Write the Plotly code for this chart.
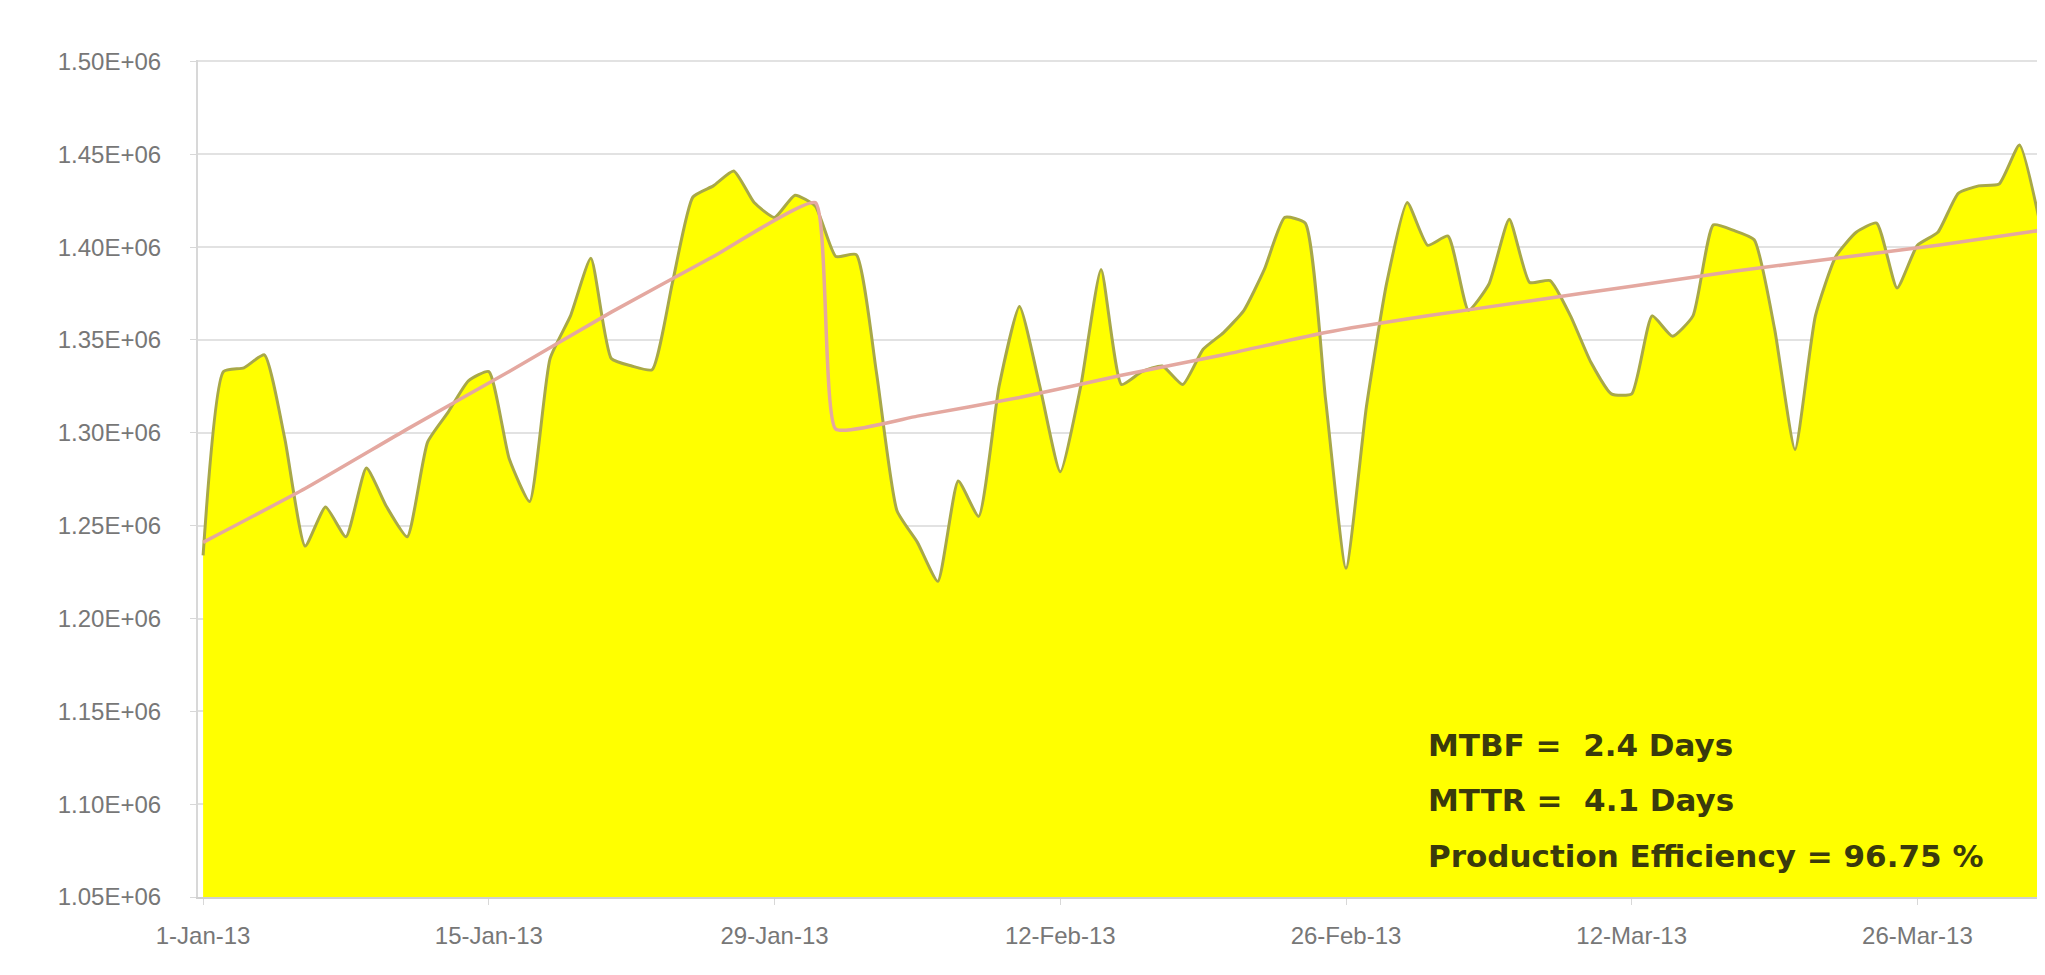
import plotly.graph_objects as go
import pandas as pd

start_date = "2013-01-01"
# daily production (units)
production = [
    1.234e6, 1.333e6, 1.335e6, 1.342e6, 1.297e6, 1.239e6, 1.260e6, 1.244e6, 1.281e6, 1.260e6,
    1.244e6, 1.295e6, 1.311e6, 1.328e6, 1.333e6, 1.286e6, 1.263e6, 1.340e6, 1.363e6, 1.394e6,
    1.340e6, 1.336e6, 1.334e6, 1.381e6, 1.427e6, 1.433e6, 1.441e6, 1.424e6, 1.416e6, 1.428e6,
    1.422e6, 1.395e6, 1.396e6, 1.332e6, 1.258e6, 1.241e6, 1.220e6, 1.274e6, 1.255e6, 1.325e6,
    1.368e6, 1.325e6, 1.279e6, 1.325e6, 1.388e6, 1.326e6, 1.333e6, 1.336e6, 1.326e6, 1.345e6,
    1.354e6, 1.366e6, 1.388e6, 1.416e6, 1.413e6, 1.318e6, 1.227e6, 1.314e6, 1.381e6, 1.424e6,
    1.401e6, 1.406e6, 1.366e6, 1.380e6, 1.415e6, 1.381e6, 1.382e6, 1.363e6, 1.338e6, 1.321e6,
    1.321e6, 1.363e6, 1.352e6, 1.363e6, 1.412e6, 1.409e6, 1.404e6, 1.356e6, 1.291e6, 1.363e6,
    1.395e6, 1.408e6, 1.413e6, 1.378e6, 1.401e6, 1.408e6, 1.429e6, 1.433e6, 1.434e6, 1.455e6,
    1.413e6,
]
dates = pd.date_range(start_date, periods=len(production), freq="D")

# trend line (two segments)
trend_dates = ["2013-01-01", "2013-01-06", "2013-01-11", "2013-01-16", "2013-01-21", "2013-01-26",
               "2013-01-31", "2013-02-01", "2013-02-05", "2013-02-10", "2013-02-15", "2013-02-20",
               "2013-02-25", "2013-03-02", "2013-03-07", "2013-03-12", "2013-03-17", "2013-03-22",
               "2013-03-27", "2013-04-01"]
trend_values = [1.241e6, 1.270e6, 1.302e6, 1.333e6, 1.365e6, 1.395e6,
                1.424e6, 1.302e6, 1.309e6, 1.319e6, 1.331e6, 1.342e6,
                1.354e6, 1.363e6, 1.371e6, 1.379e6, 1.387e6, 1.394e6,
                1.401e6, 1.409e6]

y_tickvals = [1.05e6, 1.10e6, 1.15e6, 1.20e6, 1.25e6, 1.30e6, 1.35e6, 1.40e6, 1.45e6, 1.50e6]
y_ticktext = ["1.05E+06", "1.10E+06", "1.15E+06", "1.20E+06", "1.25E+06",
              "1.30E+06", "1.35E+06", "1.40E+06", "1.45E+06", "1.50E+06"]

stats_lines = ["MTBF =  2.4 Days", "MTTR =  4.1 Days", "Production Efficiency = 96.75 %"]
stats_y = [0.182, 0.116, 0.049]

fig = go.Figure()
fig.add_trace(go.Scatter(
    x=dates, y=production, mode="lines",
    fill="tozeroy", fillcolor="#ffff00",
    line=dict(color="#a8a848", width=3, shape="spline", smoothing=0.5),
    showlegend=False,
))
fig.add_trace(go.Scatter(
    x=trend_dates, y=trend_values, mode="lines",
    line=dict(color="#e4a8a0", width=3.5, shape="spline", smoothing=0.4),
    showlegend=False,
))

for txt, yy in zip(stats_lines, stats_y):
    fig.add_annotation(
        xref="paper", yref="paper", x=0.665, y=yy, xanchor="left", yanchor="middle",
        text=txt, align="left", showarrow=False,
        font=dict(family="DejaVu Sans", size=31, color="#3a3a0c", weight="bold"),
    )

fig.update_layout(
    width=2045, height=975,
    margin=dict(l=190, r=8, t=52, b=86),
    paper_bgcolor="white", plot_bgcolor="white",
    font=dict(family="Liberation Sans", color="#777777", size=24),
)
fig.update_xaxes(
    type="date",
    range=["2012-12-31 18:00", "2013-04-01 06:00"],
    tick0="2013-01-01", dtick=14 * 86400000,
    tickformat="%-d-%b-%y",
    showgrid=False, showline=True, linecolor="#d0d0d0", linewidth=2,
    ticks="outside", ticklen=6, tickcolor="#d8d8d8",
    ticklabelstandoff=10,
    tickfont=dict(size=24, color="#777777"),
)
fig.update_yaxes(
    range=[1.05e6, 1.5008e6],
    tickvals=y_tickvals, ticktext=y_ticktext,
    showgrid=True, gridcolor="#e2e2e2", gridwidth=2,
    showline=True, linecolor="#d8d8d8", linewidth=2,
    ticks="outside", ticklen=6, tickcolor="#d8d8d8",
    ticklabelstandoff=24,
    tickfont=dict(size=24, color="#777777"),
    zeroline=False,
)

fig.write_html("out.html")
